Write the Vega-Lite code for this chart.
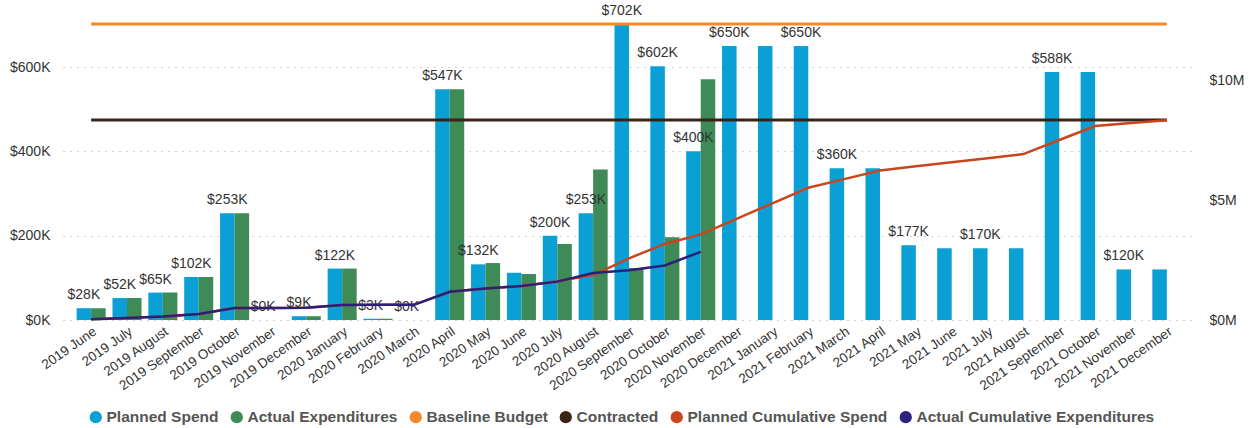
{
  "$schema": "https://vega.github.io/schema/vega-lite/v6.json",
  "width": 1132,
  "height": 296,
  "autosize": {"type": "none"},
  "padding": {"left": 63, "top": 24, "right": 55, "bottom": 108},
  "background": "white",
  "config": {"view": {"stroke": null}, "font": "Liberation Sans"},
  "data": {"values": [
    {"month": "2019 June", "Planned Spend": 28, "Actual Expenditures": 28, "planned_cum": 0.028, "actual_cum": 0.028, "baseline": 12.38, "contracted": 8.36, "label": "$28K"},
    {"month": "2019 July", "Planned Spend": 52, "Actual Expenditures": 52, "planned_cum": 0.080, "actual_cum": 0.080, "baseline": 12.38, "contracted": 8.36, "label": "$52K"},
    {"month": "2019 August", "Planned Spend": 65, "Actual Expenditures": 65, "planned_cum": 0.145, "actual_cum": 0.145, "baseline": 12.38, "contracted": 8.36, "label": "$65K"},
    {"month": "2019 September", "Planned Spend": 102, "Actual Expenditures": 102, "planned_cum": 0.247, "actual_cum": 0.247, "baseline": 12.38, "contracted": 8.36, "label": "$102K"},
    {"month": "2019 October", "Planned Spend": 253, "Actual Expenditures": 253, "planned_cum": 0.500, "actual_cum": 0.500, "baseline": 12.38, "contracted": 8.36, "label": "$253K"},
    {"month": "2019 November", "Planned Spend": 0, "Actual Expenditures": 0, "planned_cum": 0.500, "actual_cum": 0.500, "baseline": 12.38, "contracted": 8.36, "label": "$0K"},
    {"month": "2019 December", "Planned Spend": 9, "Actual Expenditures": 9, "planned_cum": 0.509, "actual_cum": 0.509, "baseline": 12.38, "contracted": 8.36, "label": "$9K"},
    {"month": "2020 January", "Planned Spend": 122, "Actual Expenditures": 122, "planned_cum": 0.631, "actual_cum": 0.631, "baseline": 12.38, "contracted": 8.36, "label": "$122K"},
    {"month": "2020 February", "Planned Spend": 3, "Actual Expenditures": 3, "planned_cum": 0.634, "actual_cum": 0.634, "baseline": 12.38, "contracted": 8.36, "label": "$3K"},
    {"month": "2020 March", "Planned Spend": 0, "Actual Expenditures": 0, "planned_cum": 0.634, "actual_cum": 0.634, "baseline": 12.38, "contracted": 8.36, "label": "$0K"},
    {"month": "2020 April", "Planned Spend": 547, "Actual Expenditures": 547, "planned_cum": 1.181, "actual_cum": 1.181, "baseline": 12.38, "contracted": 8.36, "label": "$547K"},
    {"month": "2020 May", "Planned Spend": 132, "Actual Expenditures": 135, "planned_cum": 1.313, "actual_cum": 1.316, "baseline": 12.38, "contracted": 8.36, "label": "$132K"},
    {"month": "2020 June", "Planned Spend": 112, "Actual Expenditures": 109, "planned_cum": 1.425, "actual_cum": 1.425, "baseline": 12.38, "contracted": 8.36, "label": ""},
    {"month": "2020 July", "Planned Spend": 200, "Actual Expenditures": 180, "planned_cum": 1.625, "actual_cum": 1.605, "baseline": 12.38, "contracted": 8.36, "label": "$200K"},
    {"month": "2020 August", "Planned Spend": 253, "Actual Expenditures": 357, "planned_cum": 1.878, "actual_cum": 1.962, "baseline": 12.38, "contracted": 8.36, "label": "$253K"},
    {"month": "2020 September", "Planned Spend": 702, "Actual Expenditures": 123, "planned_cum": 2.580, "actual_cum": 2.085, "baseline": 12.38, "contracted": 8.36, "label": "$702K"},
    {"month": "2020 October", "Planned Spend": 602, "Actual Expenditures": 196, "planned_cum": 3.182, "actual_cum": 2.281, "baseline": 12.38, "contracted": 8.36, "label": "$602K"},
    {"month": "2020 November", "Planned Spend": 400, "Actual Expenditures": 571, "planned_cum": 3.582, "actual_cum": 2.852, "baseline": 12.38, "contracted": 8.36, "label": "$400K"},
    {"month": "2020 December", "Planned Spend": 650, "Actual Expenditures": null, "planned_cum": 4.232, "actual_cum": null, "baseline": 12.38, "contracted": 8.36, "label": "$650K"},
    {"month": "2021 January", "Planned Spend": 650, "Actual Expenditures": null, "planned_cum": 4.882, "actual_cum": null, "baseline": 12.38, "contracted": 8.36, "label": ""},
    {"month": "2021 February", "Planned Spend": 650, "Actual Expenditures": null, "planned_cum": 5.532, "actual_cum": null, "baseline": 12.38, "contracted": 8.36, "label": "$650K"},
    {"month": "2021 March", "Planned Spend": 360, "Actual Expenditures": null, "planned_cum": 5.892, "actual_cum": null, "baseline": 12.38, "contracted": 8.36, "label": "$360K"},
    {"month": "2021 April", "Planned Spend": 360, "Actual Expenditures": null, "planned_cum": 6.252, "actual_cum": null, "baseline": 12.38, "contracted": 8.36, "label": ""},
    {"month": "2021 May", "Planned Spend": 177, "Actual Expenditures": null, "planned_cum": 6.429, "actual_cum": null, "baseline": 12.38, "contracted": 8.36, "label": "$177K"},
    {"month": "2021 June", "Planned Spend": 170, "Actual Expenditures": null, "planned_cum": 6.599, "actual_cum": null, "baseline": 12.38, "contracted": 8.36, "label": ""},
    {"month": "2021 July", "Planned Spend": 170, "Actual Expenditures": null, "planned_cum": 6.769, "actual_cum": null, "baseline": 12.38, "contracted": 8.36, "label": "$170K"},
    {"month": "2021 August", "Planned Spend": 170, "Actual Expenditures": null, "planned_cum": 6.939, "actual_cum": null, "baseline": 12.38, "contracted": 8.36, "label": ""},
    {"month": "2021 September", "Planned Spend": 588, "Actual Expenditures": null, "planned_cum": 7.527, "actual_cum": null, "baseline": 12.38, "contracted": 8.36, "label": "$588K"},
    {"month": "2021 October", "Planned Spend": 588, "Actual Expenditures": null, "planned_cum": 8.115, "actual_cum": null, "baseline": 12.38, "contracted": 8.36, "label": ""},
    {"month": "2021 November", "Planned Spend": 120, "Actual Expenditures": null, "planned_cum": 8.235, "actual_cum": null, "baseline": 12.38, "contracted": 8.36, "label": "$120K"},
    {"month": "2021 December", "Planned Spend": 120, "Actual Expenditures": null, "planned_cum": 8.355, "actual_cum": null, "baseline": 12.38, "contracted": 8.36, "label": ""}
  ]},
  "encoding": {
    "x": {
      "field": "month", "type": "nominal", "sort": null,
      "scale": {"paddingInner": 0.19, "paddingOuter": 0.38},
      "axis": {"title": null, "labelAngle": -35, "labelFontSize": 13.5, "labelColor": "#333", "domain": false, "ticks": false, "labelPadding": 4}
    }
  },
  "layer": [
    {
      "layer": [
        {
          "transform": [
            {"fold": ["Planned Spend", "Actual Expenditures"], "as": ["series", "value"]},
            {"filter": "datum.value != null"}
          ],
          "mark": {"type": "bar"},
          "encoding": {
            "xOffset": {"field": "series", "type": "nominal", "scale": {"domain": ["Planned Spend", "Actual Expenditures"], "paddingInner": 0, "paddingOuter": 0}},
            "y": {
              "field": "value", "type": "quantitative",
              "scale": {"domain": [0, 702], "nice": false},
              "axis": {"title": null, "values": [0, 200, 400, 600], "labelExpr": "'$' + datum.value + 'K'", "domain": false, "ticks": false, "labelPadding": 13, "labelFontSize": 14, "labelColor": "#333", "grid": true, "gridDash": [1, 6], "gridColor": "#aaa", "gridWidth": 1.2}
            },
            "color": {
              "field": "series", "type": "nominal",
              "scale": {
                "domain": ["Planned Spend", "Actual Expenditures", "Baseline Budget", "Contracted", "Planned Cumulative Spend", "Actual Cumulative Expenditures"],
                "range": ["#0AA0D6", "#3E8B58", "#F8892B", "#3A2416", "#C8461E", "#2E2385"]
              },
              "legend": {"orient": "none", "legendX": 25, "legendY": 385, "direction": "horizontal", "columns": 6, "title": null, "symbolType": "circle", "symbolSize": 150, "symbolStrokeWidth": 0, "symbolOpacity": 1, "labelFontSize": 15.5, "labelFontWeight": "bold", "labelColor": "#555", "labelLimit": 0, "columnPadding": 10, "labelOffset": 3}
            }
          }
        },
        {
          "mark": {"type": "text", "baseline": "alphabetic", "dy": -9, "fontSize": 14, "color": "#333"},
          "encoding": {
            "xOffset": {"datum": "Planned Spend"},
            "y": {"field": "Planned Spend", "type": "quantitative"},
            "text": {"field": "label"}
          }
        }
      ]
    },
    {
      "layer": [
        {
          "mark": {"type": "line", "strokeWidth": 3, "color": "#F8892B"},
          "encoding": {
            "y": {
              "field": "baseline", "type": "quantitative",
              "scale": {"domain": [0, 12.38], "nice": false},
              "axis": {"orient": "right", "title": null, "values": [0, 5, 10], "labelExpr": "'$' + datum.value + 'M'", "domain": false, "ticks": false, "grid": false, "labelPadding": 14, "labelFontSize": 14, "labelColor": "#333"}
            }
          }
        },
        {
          "mark": {"type": "line", "strokeWidth": 3, "color": "#3A2416"},
          "encoding": {"y": {"field": "contracted", "type": "quantitative"}}
        },
        {
          "mark": {"type": "line", "strokeWidth": 2.5, "color": "#C8461E"},
          "encoding": {"y": {"field": "planned_cum", "type": "quantitative"}}
        },
        {
          "mark": {"type": "line", "strokeWidth": 2.5, "color": "#2B1F78"},
          "encoding": {"y": {"field": "actual_cum", "type": "quantitative"}}
        }
      ]
    }
  ],
  "resolve": {"scale": {"y": "independent"}}
}
